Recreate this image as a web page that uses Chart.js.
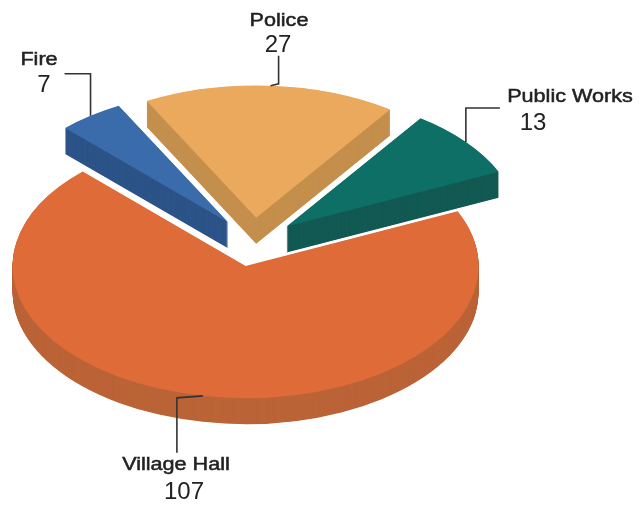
<!DOCTYPE html>
<html>
<head>
<meta charset="utf-8">
<title>Employees by department</title>
<script src="https://cdn.jsdelivr.net/npm/chart.js@4"></script>
<style>
    html, body { margin: 0; padding: 0; background: #fff; }
    canvas { display: block; }
</style>
</head>
<body>
<canvas id="pieChart" width="639" height="506"></canvas>
<script>
var departments = ['Village Hall', 'Fire', 'Police', 'Public Works'];
var headcount = [107, 7, 27, 13];
var topColors = ['#de6b38', '#3a6cab', '#eba95d', '#0e6f66'];
var sideColors = ['#bb6438', '#2d5488', '#c48f4c', '#135a53'];

var TILT = 0.567;     // vertical squash of the disc
var DEPTH = 26;       // thickness of the disc in px
var EXPLODE = 43;     // how far every slice is pulled out of the centre

// leader lines, relative to the middle of each slice's rim
var leaders = [
    [[-26, 2], [-26, 57]],
    [[0, -42], [-26, -42]],
    [[8, -2], [8, -30]],
    [[0, -34], [34, -34]]
];
// name and value text: centre x, baseline y
var nameAnchors = [[176, 470], [39, 65], [279, 26], [570, 102]];
var valueAnchors = [[184, 499], [44, 92], [278, 52], [533, 130]];

function midAngle(arc) {
    return (arc.startAngle + arc.endAngle) / 2;
}

function drawLayer(ctx, arc, color, dy) {
    var mid = midAngle(arc);
    var saved = arc.options;
    arc.options = Object.assign(Object.create(saved), {backgroundColor: color, borderWidth: 0});
    ctx.save();
    // squash around the chart centre, then move the slice out along its middle
    ctx.translate(0, arc.y + dy);
    ctx.scale(1, TILT);
    ctx.translate(0, -arc.y);
    ctx.translate(Math.cos(mid) * EXPLODE, Math.sin(mid) * EXPLODE);
    arc.draw(ctx);
    ctx.restore();
    arc.options = saved;
}

function drawText(ctx, text, anchor, font, stretch, weight) {
    ctx.save();
    ctx.translate(anchor[0], anchor[1]);
    ctx.scale(stretch, 1);
    ctx.font = font;
    ctx.fillStyle = '#222222';
    ctx.strokeStyle = '#222222';
    ctx.lineWidth = weight;
    ctx.textAlign = 'center';
    ctx.textBaseline = 'alphabetic';
    ctx.fillText(text, 0, 0);
    if (weight > 0) {
        ctx.strokeText(text, 0, 0);
    }
    ctx.restore();
}

var extrudedPie = {
    id: 'extrudedPie',
    beforeDatasetDraw: function(chart, args) {
        var ctx = chart.ctx;
        var arcs = args.meta.data.slice();
        // slices at the back first
        arcs.sort(function(a, b) {
            return Math.sin(midAngle(a)) - Math.sin(midAngle(b));
        });
        arcs.forEach(function(arc) {
            var i = args.meta.data.indexOf(arc);
            // half pixel steps keep the rim free of stripes
            for (var dy = DEPTH; dy > 0; dy -= 0.5) {
                drawLayer(ctx, arc, sideColors[i], dy);
            }
            drawLayer(ctx, arc, topColors[i], 0);
        });
        return false;
    },
    afterDraw: function(chart) {
        var ctx = chart.ctx;
        chart.getDatasetMeta(0).data.forEach(function(arc, i) {
            var mid = midAngle(arc);
            var reach = arc.outerRadius + EXPLODE;
            var rimX = arc.x + Math.cos(mid) * reach;
            var rimY = arc.y + Math.sin(mid) * reach * TILT;

            ctx.save();
            ctx.strokeStyle = '#333333';
            ctx.lineWidth = 1.6;
            ctx.beginPath();
            ctx.moveTo(rimX, rimY);
            leaders[i].forEach(function(p) {
                ctx.lineTo(rimX + p[0], rimY + p[1]);
            });
            ctx.stroke();
            ctx.restore();

            drawText(ctx, departments[i], nameAnchors[i], '18px "Liberation Sans"', 1.2, 0.5);
            drawText(ctx, String(headcount[i]), valueAnchors[i], '24px "Liberation Sans"', 1, 0);
        });
    }
};

new Chart(document.getElementById('pieChart'), {
    type: 'pie',
    data: {
        labels: departments,
        datasets: [{
            data: headcount,
            backgroundColor: topColors,
            borderWidth: 0
        }]
    },
    options: {
        responsive: false,
        animation: false,
        rotation: 65.5,
        radius: 233,
        layout: {padding: {right: 132, bottom: 22}},
        plugins: {
            legend: {display: false},
            tooltip: {enabled: false}
        }
    },
    plugins: [extrudedPie]
});
</script>
</body>
</html>
